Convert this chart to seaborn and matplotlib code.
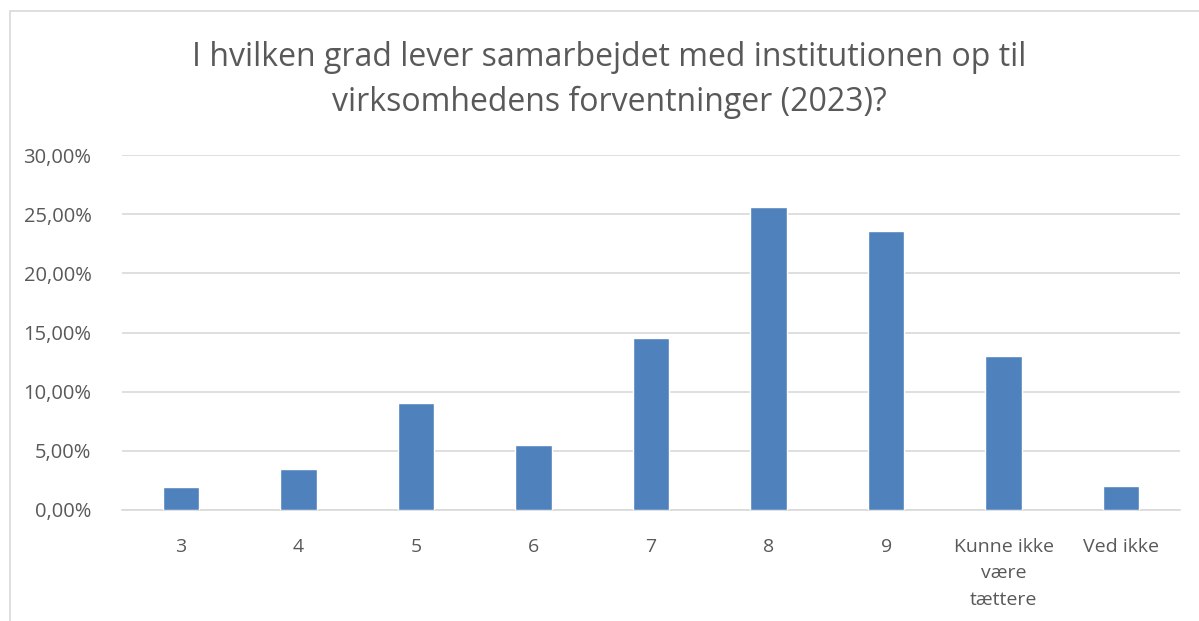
import matplotlib
matplotlib.use("Agg")
import matplotlib.pyplot as plt
import seaborn as sns
import pandas as pd
from matplotlib.patches import Rectangle
from matplotlib.ticker import FuncFormatter

categories = ["3", "4", "5", "6", "7", "8", "9", "Kunne ikke\nvære\ntættere", "Ved ikke"]
values = [1.97, 3.49, 9.04, 5.49, 14.54, 25.59, 23.56, 13.02, 2.0]
yticks = [0, 5, 10, 15, 20, 25, 30]
title = "I hvilken grad lever samarbejdet med institutionen op til\nvirksomhedens forventninger (2023)?"

sns.set_theme(style="white")
plt.rcParams['font.family'] = ['Open Sans', 'DejaVu Sans']

W, H = 1199, 621
fig = plt.figure(figsize=(W / 100, H / 100), dpi=100)
ax = fig.add_axes([122 / W, 1 - 510 / H, (1180 - 122) / W, (510 - 155) / H])

df = pd.DataFrame({"cat": categories, "val": values})
sns.barplot(data=df, x="cat", y="val", color="#4f81bd", saturation=1, width=0.31, ax=ax, zorder=3)

ax.set_ylim(0, 30)
ax.set_xlim(-0.5, len(categories) - 0.5)
ax.set_yticks(yticks)
ax.yaxis.set_major_formatter(FuncFormatter(lambda v, p: f"{v:.2f}%".replace(".", ",")))
ax.grid(axis="y", color="#d9d9d9", linewidth=1.2, zorder=0)
ax.grid(axis="x", visible=False)
for s in ["top", "right", "left"]:
    ax.spines[s].set_visible(False)
ax.spines["bottom"].set_color("#d9d9d9")
ax.spines["bottom"].set_linewidth(1.2)
ax.set_xlabel("")
ax.set_ylabel("")
ax.tick_params(axis="both", length=0, labelcolor="#595959")
ax.tick_params(axis="x", pad=20, labelsize=14)
ax.tick_params(axis="y", pad=22, labelsize=14.5)
for lbl in ax.get_xticklabels():
    lbl.set_linespacing(1.6)

fig.text(0.508, 1 - 80 / H, title, ha="center", va="center", fontsize=23,
         color="#595959", linespacing=1.45)

fig.patches.append(Rectangle((10 / W, -0.01), 1.02, 1 - 11 / H + 0.01, transform=fig.transFigure,
                             fill=False, edgecolor="#d9d9d9", linewidth=1.2))

fig.savefig("out.png", dpi=100)
